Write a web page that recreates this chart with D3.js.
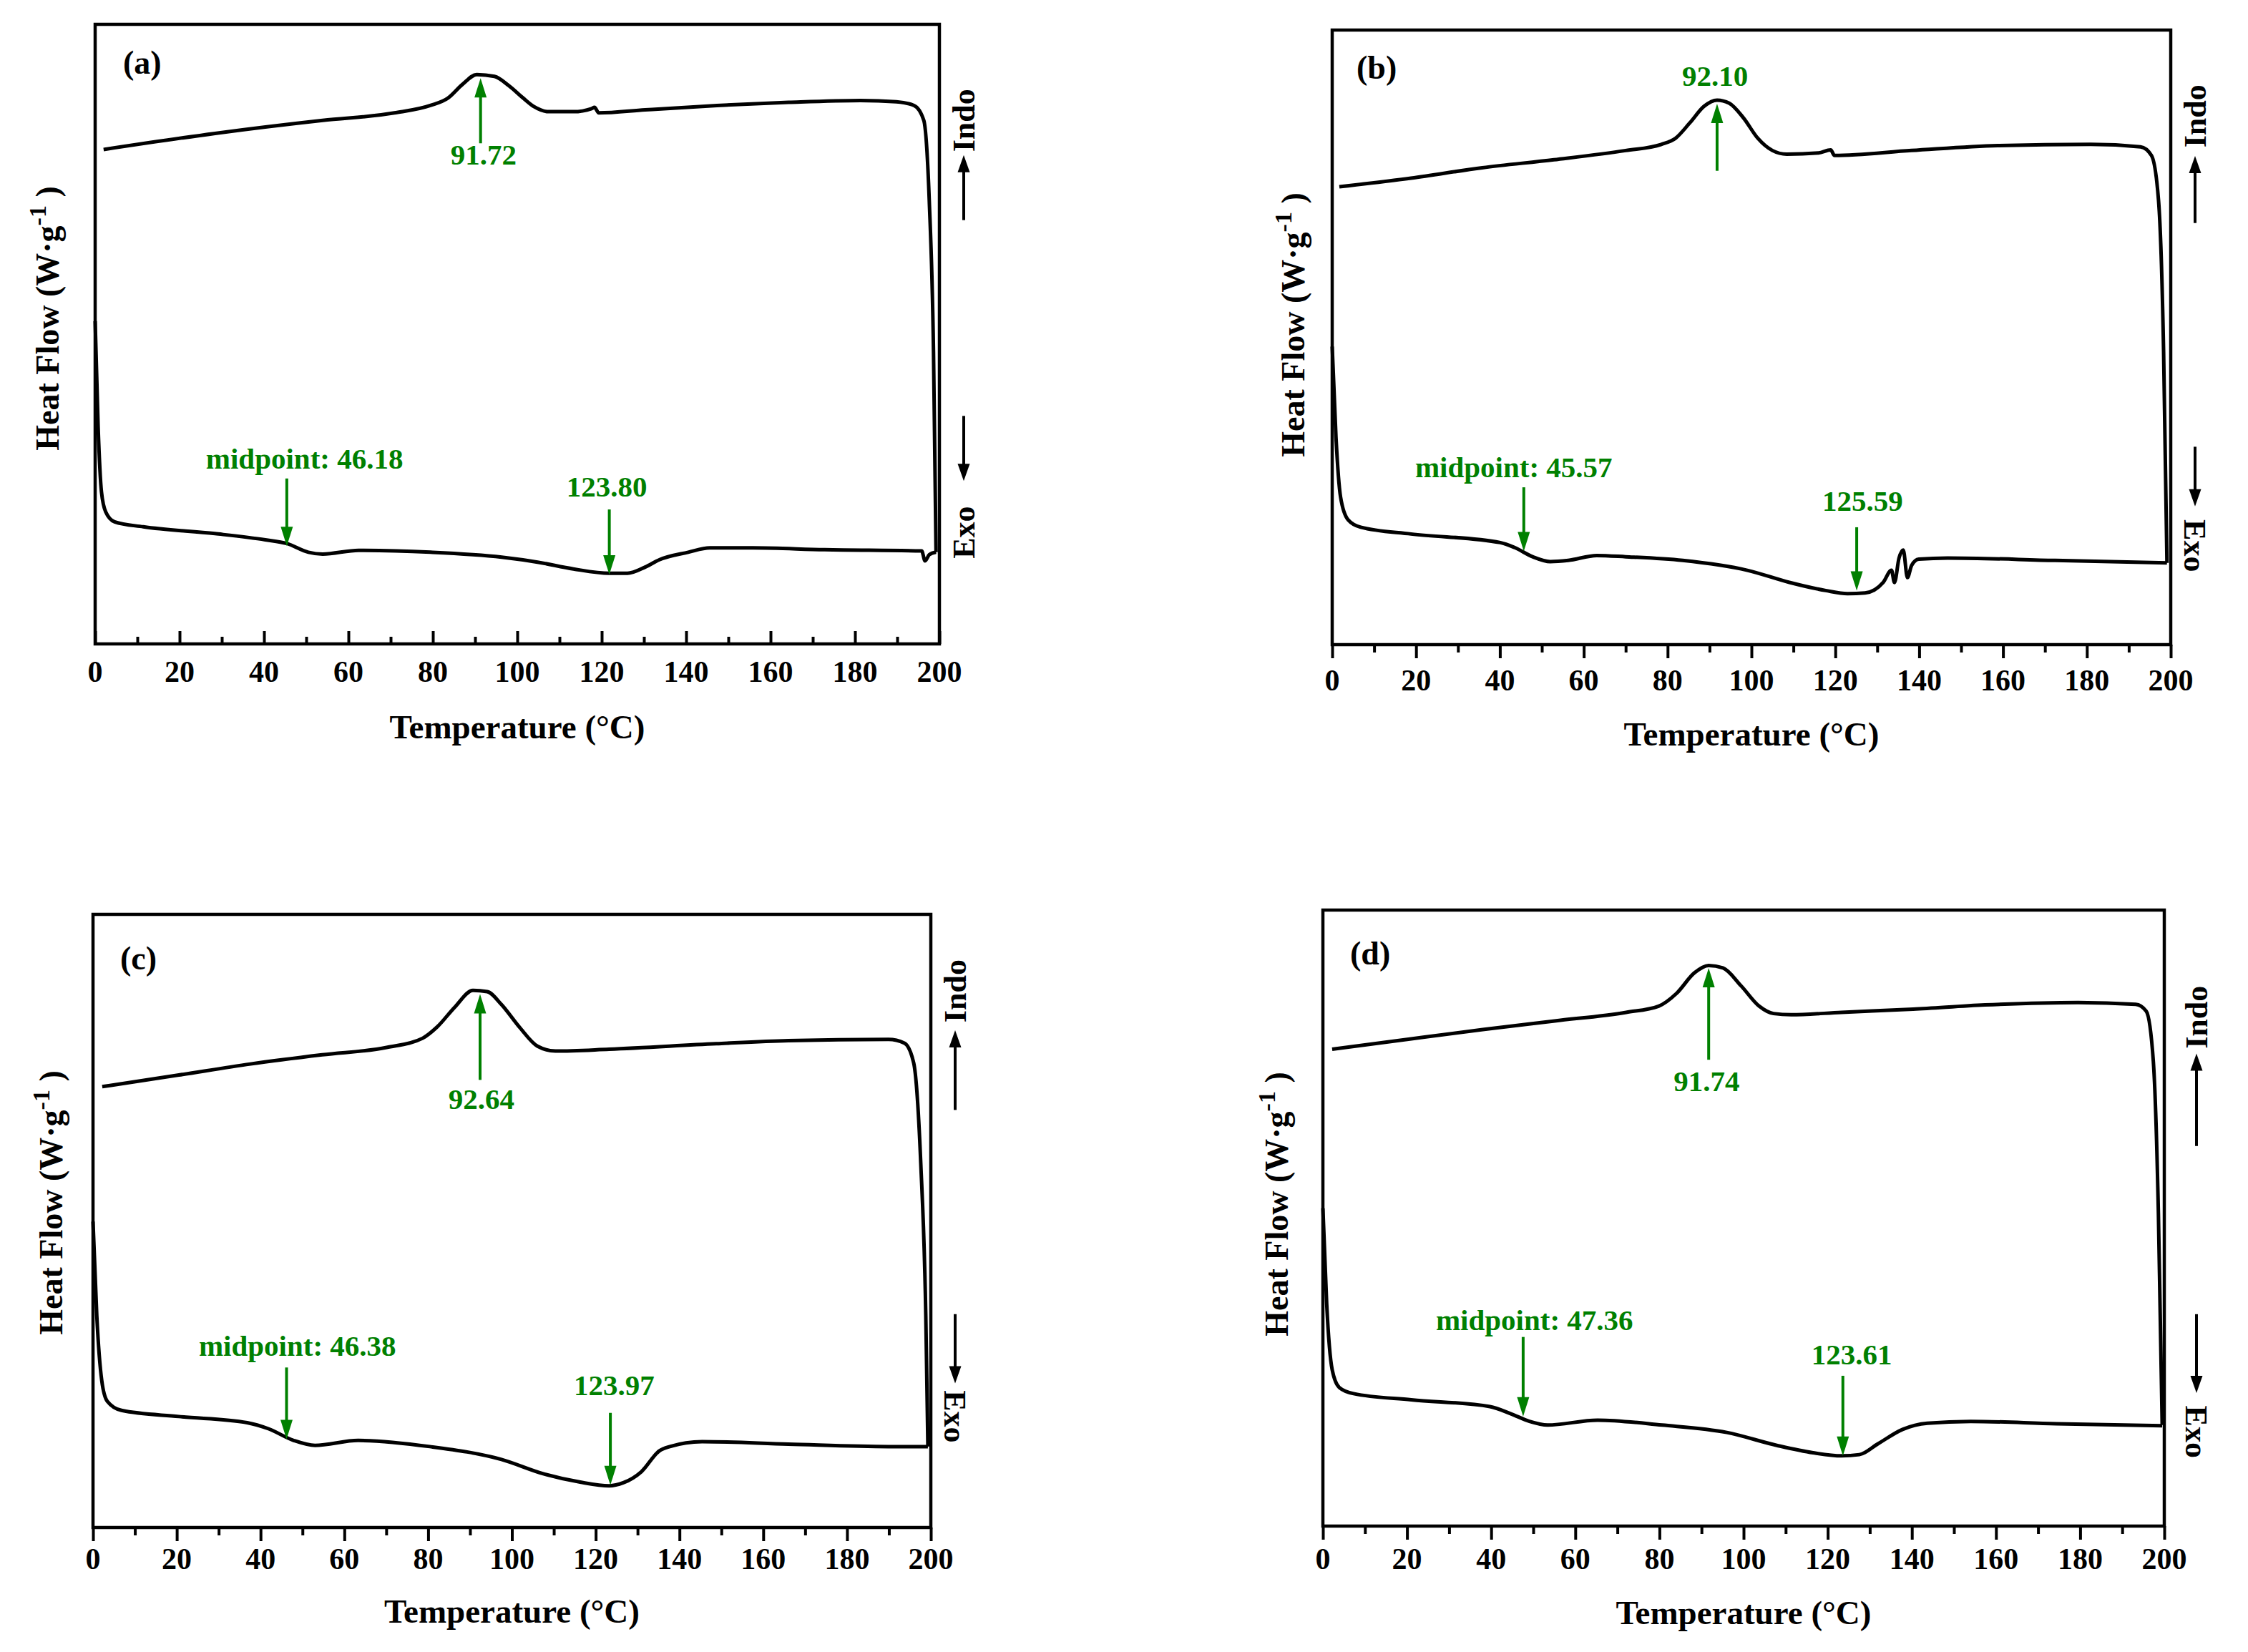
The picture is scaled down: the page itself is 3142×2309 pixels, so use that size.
<html>
<head>
  <script src="https://d3js.org/d3.v7.min.js"></script>
  <title>DSC curves (a)-(d)</title>
  <style>
    body { margin: 0; background: #fff; }
    text { font-family: "Liberation Serif", "Times New Roman", serif; font-weight: bold; }
  </style>
</head>
<body>
  <svg id="chart" width="3142" height="2309"></svg>

  <script>
    // ---- data (temperature in °C, heat flow in relative units 0-100 of the plot height) ----
    const panelNames = ["(a)", "(b)", "(c)", "(d)"];
    const xMajorTicks = [0, 20, 40, 60, 80, 100, 120, 140, 160, 180, 200];
    const xMinorTicks = [10, 30, 50, 70, 90, 110, 130, 150, 170, 190];
    const xTitle = "Temperature (°C)";
    const yTitle = "Heat Flow (W·g";

    const upperA = [[2,79.8],[28.4,82.4],[53.9,84.5],[70.9,85.7],[79.4,86.9],[83.6,88.1],[87,90.3],[90.4,91.9],
      [94.6,91.6],[98,90.1],[101.4,88.1],[104,86.7],[107.4,85.9],[113.3,85.9],[117.6,86.4],[118.3,86.6],[119.3,85.7],
      [130.3,86.2],[147.3,86.9],[164.3,87.4],[181.3,87.7],[189.8,87.5],[194,86.9],[196.3,84.5],[197.6,71.5],
      [198.6,47.2],[199.2,14.8]];
    const lowerA = [[0,52.1],[0.7,35.1],[1.5,24.5],[2.5,21.3],[4.6,19.7],[11.4,18.9],[28.4,17.8],[40.3,16.8],
      [45.4,16.2],[50.5,14.8],[53.9,14.5],[62.4,15.1],[79.4,14.8],[96.3,14.0],[104.8,13.2],[113.3,12.1],[121.8,11.4],
      [126.1,11.4],[130.3,12.4],[133.7,13.6],[140.5,14.8],[145.6,15.5],[155.8,15.5],[172.8,15.2],[195.8,15.0],
      [196.6,13.4],[197.6,14.4],[199.2,14.8]];

    const upperB = [[1.7,74.5],[18.8,75.9],[35.8,77.6],[52.9,78.9],[70,80.4],[78.5,81.4],[81.9,82.4],[85.3,84.9],
      [88.7,87.6],[91.8,88.6],[94.7,88.1],[98.1,85.7],[101.5,82.4],[105,80.4],[108.4,79.8],[116,80.0],[118.9,80.5],
      [119.8,79.6],[138.2,80.4],[158.7,81.2],[180.9,81.4],[192.8,81.0],[195.4,79.6],[197.1,72.2],[198.3,47.7],[199.1,13.3]];
    const lowerB = [[0,48.5],[0.9,33.8],[2,24.0],[3.8,20.3],[6.8,19.1],[18.8,18.0],[40.1,16.6],[43.5,15.8],
      [47.8,14.3],[52,13.5],[56.3,13.7],[63.1,14.5],[70,14.3],[83.6,13.7],[99,12.1],[109.2,10.1],[117.7,8.8],
      [122.9,8.3],[127.1,8.4],[131.4,10.1],[133.4,12.1],[134.1,10.1],[135.2,14.1],[136.2,15.4],[137.2,10.9],
      [138.2,12.9],[139.9,13.9],[146.8,14.1],[172.4,13.7],[199.1,13.3]];

    const upperC = [[2.2,71.9],[20.5,73.8],[37.6,75.6],[54.7,77.1],[70.1,78.3],[78.7,79.8],[82.1,81.6],[86.4,84.9],
      [90.7,87.6],[94.1,87.4],[97.5,85.3],[101.8,81.6],[106.1,78.5],[110.4,77.7],[123.2,78.0],[148.8,78.9],
      [166,79.4],[189.9,79.6],[193.7,79.0],[195.9,75.8],[197.6,59.4],[198.8,34.6],[199.3,13.2]];
    const lowerC = [[0,49.9],[0.9,34.6],[2.1,23.9],[3.4,20.6],[6.8,19.1],[20.5,18.1],[36.8,17.1],[41.9,16.1],
      [47.9,14.2],[53,13.4],[63.3,14.2],[80.4,13.2],[97.5,11.1],[107.8,8.7],[116.3,7.4],[123.2,6.8],[126.6,7.3],
      [130.9,9.1],[135.2,12.5],[137.7,13.2],[145.4,14.0],[166,13.6],[189.9,13.2],[199.3,13.2]];

    const upperD = [[2.2,77.4],[21,79.1],[38,80.6],[55.1,82.0],[72.1,83.4],[79.8,84.4],[84.1,86.5],[88.3,89.8],
      [91.7,91.0],[95.1,90.6],[99.4,87.7],[103.7,84.4],[107.1,83.2],[111.3,83.0],[123.3,83.4],[140.3,83.9],
      [157.4,84.6],[179.5,85.0],[193.2,84.7],[195.7,83.6],[197.4,75.4],[198.6,50.8],[199.5,16.4]];
    const lowerD = [[0,51.6],[0.9,36.1],[2.2,25.4],[3.9,22.5],[7.3,21.5],[21,20.5],[39.7,19.4],[44.8,18.2],
      [49.1,17.0],[53.4,16.4],[65.3,17.2],[80.6,16.4],[96,15.2],[107.9,13.1],[116.5,11.9],[123.3,11.4],[127.5,11.6],
      [131.8,13.3],[137.8,15.7],[143.7,16.7],[154,17.0],[174.4,16.6],[199.5,16.3]];

    // annotations: label, arrow temperature, arrow tail, arrow tip, label temperature, label baseline
    const notesA = [
      ["91.72", 91.3, 80.8, 91.3, 92.0, 77.4],
      ["midpoint: 46.18", 45.4, 26.7, 15.8, 49.6, 28.3],
      ["123.80", 121.8, 21.7, 11.2, 121.2, 23.8]];
    const notesB = [
      ["92.10", 91.8, 77.1, 88.0, 91.3, 90.9],
      ["midpoint: 45.57", 45.7, 25.6, 15.2, 43.3, 27.2],
      ["125.59", 125.1, 19.1, 8.8, 126.5, 21.8]];
    const notesC = [
      ["92.64", 92.4, 73.0, 87.0, 92.7, 68.3],
      ["midpoint: 46.38", 46.2, 26.1, 14.4, 48.8, 28.0],
      ["123.97", 123.5, 18.7, 6.9, 124.4, 21.6]];
    const notesD = [
      ["91.74", 91.7, 75.7, 90.6, 91.2, 70.6],
      ["midpoint: 47.36", 47.6, 30.7, 17.8, 50.3, 31.8],
      ["123.61", 123.6, 24.4, 11.4, 125.7, 26.2]];

    // ---- layout of the four panels (pixels) ----
    const panels = [
      { name: panelNames[0], upper: upperA, lower: lowerA, notes: notesA,
        left: 133, top: 34, right: 1313, bottom: 900, ticksIn: true,
        tickBase: 953, titleBase: 1032, nameX: 39, nameBase: 103,
        yLabX: -51, yLabY: 445,
        sideX: 34, indo: [84.5, 68.4, 78.9], exo: [18.0, 36.8, 26.3], exoRot: -90 },
      { name: panelNames[1], upper: upperB, lower: lowerB, notes: notesB,
        left: 1862, top: 42, right: 3034, bottom: 901, ticksIn: false,
        tickBase: 965, titleBase: 1042, nameX: 34, nameBase: 110,
        yLabX: -39, yLabY: 454,
        sideX: 34, indo: [86.0, 68.6, 79.5], exo: [16.1, 32.2, 22.5], exoRot: 90 },
      { name: panelNames[2], upper: upperC, lower: lowerC, notes: notesC,
        left: 130, top: 1278, right: 1301, bottom: 2135, ticksIn: false,
        tickBase: 2193, titleBase: 2268, nameX: 38, nameBase: 1355,
        yLabX: -43, yLabY: 1681,
        sideX: 34, indo: [87.5, 68.1, 81.1], exo: [18.1, 34.8, 23.5], exoRot: 90 },
      { name: panelNames[3], upper: upperD, lower: lowerD, notes: notesD,
        left: 1849, top: 1272, right: 3025, bottom: 2133, ticksIn: false,
        tickBase: 2193, titleBase: 2270, nameX: 38, nameBase: 1348,
        yLabX: -49, yLabY: 1683,
        sideX: 45, indo: [82.6, 61.7, 76.7], exo: [15.3, 34.4, 21.6], exoRot: 90 }
    ];

    const svg = d3.select("#chart");
    const green = "#008000";

    function arrow(g, x1, y1, x2, y2, color, width, headLen, headW) {
      let dx = x2 - x1, dy = y2 - y1;
      let len = Math.sqrt(dx * dx + dy * dy);
      let ux = dx / len, uy = dy / len;
      let bx = x2 - ux * headLen, by = y2 - uy * headLen;
      g.append("line")
        .attr("x1", x1).attr("y1", y1).attr("x2", bx + ux * 2).attr("y2", by + uy * 2)
        .attr("stroke", color).attr("stroke-width", width);
      g.append("polygon")
        .attr("points", [[x2, y2], [bx - uy * headW / 2, by + ux * headW / 2], [bx + uy * headW / 2, by - ux * headW / 2]].join(" "))
        .attr("fill", color);
    }

    panels.forEach(p => {
      let g = svg.append("g");

      let x = d3.scaleLinear().domain([0, 200]).range([p.left, p.right]);
      let y = d3.scaleLinear().domain([0, 100]).range([p.bottom, p.top]);

      // ticks on the bottom axis
      let majorSize = p.ticksIn ? -18 : 19;
      let minorSize = p.ticksIn ? -10 : 11;
      let axMajor = g.append("g").attr("transform", `translate(0,${p.bottom})`)
        .call(d3.axisBottom(x).tickValues(xMajorTicks).tickSize(majorSize).tickFormat(""));
      let axMinor = g.append("g").attr("transform", `translate(0,${p.bottom})`)
        .call(d3.axisBottom(x).tickValues(xMinorTicks).tickSize(minorSize).tickFormat(""));
      [axMajor, axMinor].forEach(a => {
        a.select(".domain").remove();
        a.selectAll("line").attr("stroke", "#000").attr("stroke-width", 4);
      });

      g.selectAll(".tick-label").data(xMajorTicks).join("text")
        .attr("class", "tick-label")
        .attr("x", d => x(d))
        .attr("y", p.tickBase)
        .attr("text-anchor", "middle")
        .attr("font-size", 42)
        .text(d => d);

      // frame
      g.append("rect")
        .attr("x", p.left).attr("y", p.top)
        .attr("width", p.right - p.left).attr("height", p.bottom - p.top)
        .attr("fill", "none").attr("stroke", "#000").attr("stroke-width", 4.5);

      // titles
      g.append("text")
        .attr("x", (p.left + p.right) / 2)
        .attr("y", p.titleBase)
        .attr("text-anchor", "middle")
        .attr("font-size", 47)
        .text(xTitle);

      let yl = g.append("text")
        .attr("transform", `translate(${p.left + p.yLabX},${p.yLabY}) rotate(-90)`)
        .attr("text-anchor", "middle")
        .attr("font-size", 46)
        .text(yTitle);
      yl.append("tspan").attr("font-size", 34).attr("dy", -18).text("-1");
      yl.append("tspan").attr("dy", 18).text(" )");

      g.append("text")
        .attr("x", p.left + p.nameX)
        .attr("y", p.nameBase)
        .attr("font-size", 46)
        .text(p.name);

      // curves
      let line = d3.line().x(d => x(d[0])).y(d => y(d[1])).curve(d3.curveMonotoneX);
      [p.upper, p.lower].forEach(s => {
        g.append("path")
          .datum(s)
          .attr("d", line)
          .attr("fill", "none")
          .attr("stroke", "#000")
          .attr("stroke-width", 5)
          .attr("stroke-linejoin", "round");
      });

      // green annotations
      p.notes.forEach(n => {
        arrow(g, x(n[1]), y(n[2]), x(n[1]), y(n[3]), green, 4, 27, 17);
        g.append("text")
          .attr("x", x(n[4]))
          .attr("y", y(n[5]))
          .attr("text-anchor", "middle")
          .attr("font-size", 41)
          .attr("fill", green)
          .text(n[0]);
      });

      // Indo / Exo side markers
      let sx = p.right + p.sideX;
      g.append("text")
        .attr("transform", `translate(${sx + 15},${y(p.indo[0])}) rotate(-90)`)
        .attr("text-anchor", "middle")
        .attr("font-size", 44)
        .text("Indo");
      arrow(g, sx, y(p.indo[1]), sx, y(p.indo[2]), "#000", 4, 24, 17);

      g.append("text")
        .attr("transform", `translate(${sx + (p.exoRot < 0 ? 15 : -15)},${y(p.exo[0])}) rotate(${p.exoRot})`)
        .attr("text-anchor", "middle")
        .attr("font-size", 44)
        .text("Exo");
      arrow(g, sx, y(p.exo[1]), sx, y(p.exo[2]), "#000", 4, 24, 17);
    });
  </script>
</body>
</html>
